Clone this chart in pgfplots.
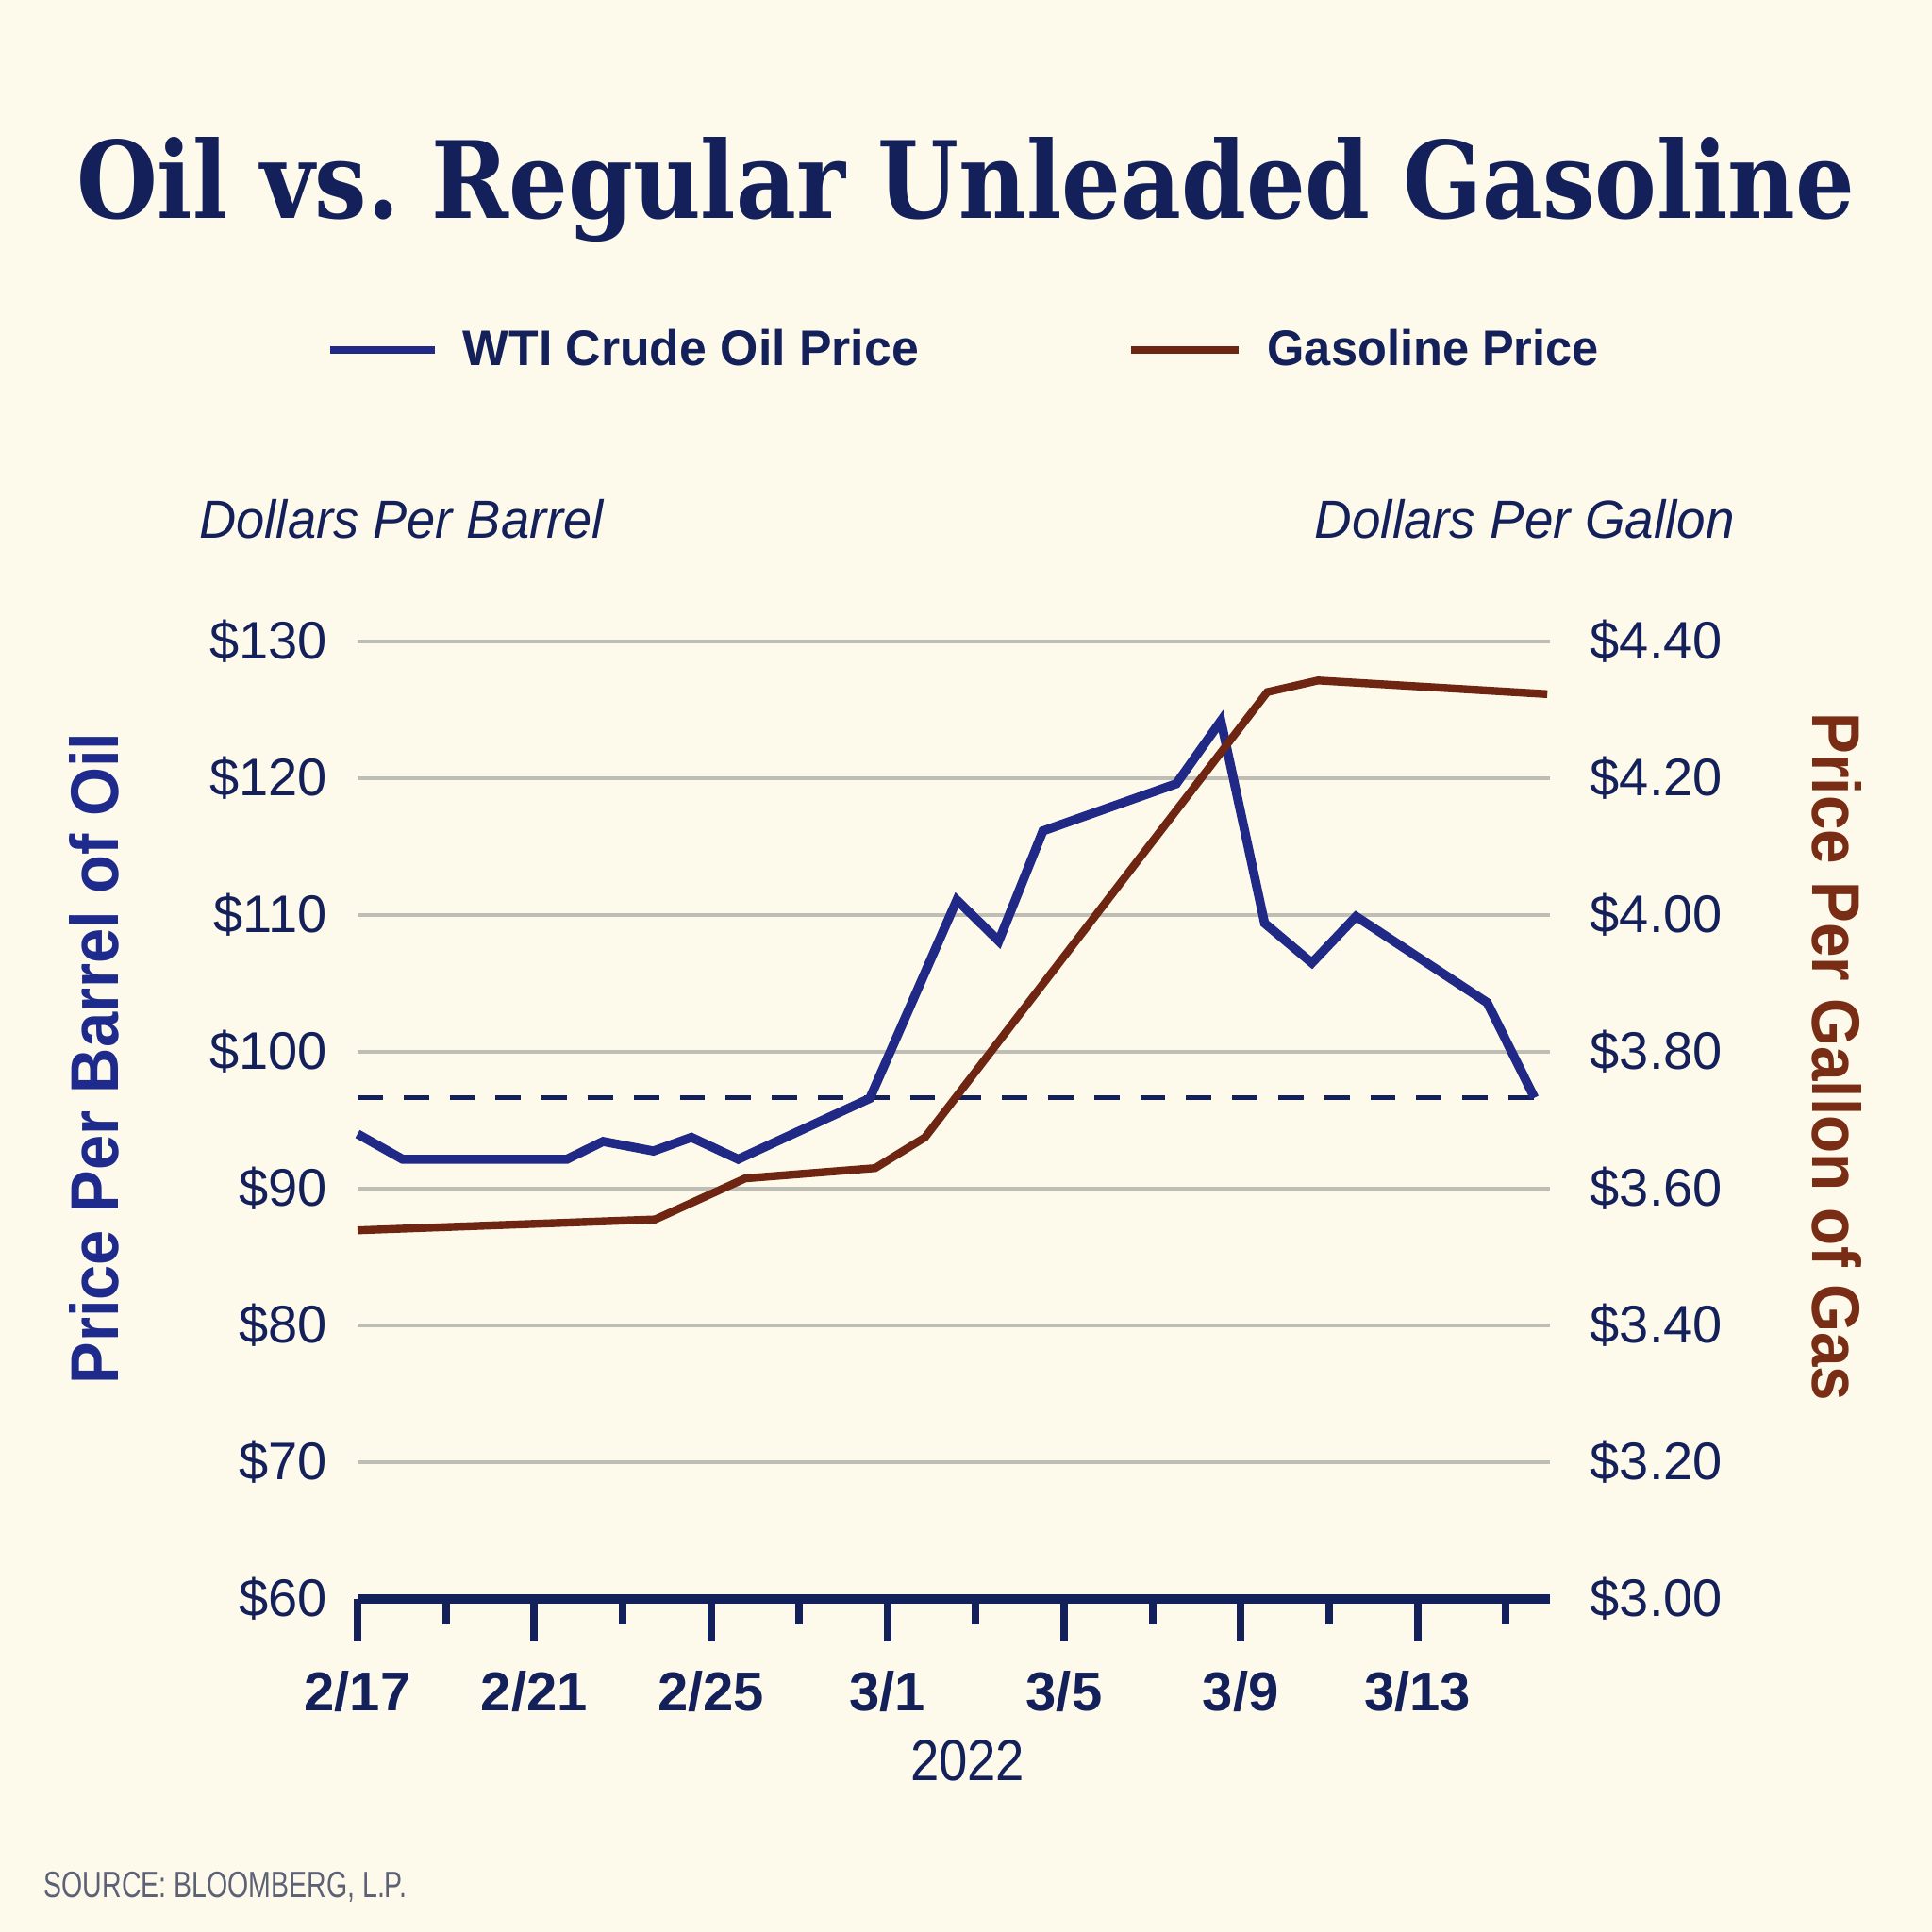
\documentclass[border=0pt]{standalone}
\usepackage{fontspec}
\setmainfont{Liberation Sans}
\newfontfamily\titlefont{DejaVu Serif}
\usepackage{graphicx}
\usepackage{pgfplots}
\pgfplotsset{compat=1.18}

\definecolor{paper}{HTML}{FDF9EB}
\definecolor{ink}{HTML}{14205A}
\definecolor{oilblue}{HTML}{202A86}
\definecolor{oillabel}{HTML}{1F2B8C}
\definecolor{gasbrown}{HTML}{6E2612}
\definecolor{gaslabel}{HTML}{7A2D15}
\definecolor{gridgray}{HTML}{BEBDB6}
\definecolor{sourcegray}{HTML}{5D6175}

\pgfplotsset{
  twinaxis/.style={
    at={(94.75pt,88.25pt)}, anchor=south west,
    scale only axis, width=316pt, height=253.75pt,
    xmin=0, xmax=27, clip=false,
    tick align=outside,
    /pgf/number format/assume math mode=true,
  }
}

\begin{document}
\begin{tikzpicture}
\fill[paper] (0,0) rectangle (512pt,512pt);
\useasboundingbox (0,0) rectangle (512pt,512pt);

% crude oil, dollars per barrel (left scale)
\begin{axis}[
  twinaxis,
  ymin=60, ymax=130,
  axis x line*=bottom,
  axis y line*=left,
  y axis line style={draw=none},
  x axis line style={draw=ink, line width=2.3pt, -},
  ytick={60,70,...,130},
  yticklabel={\$\pgfmathprintnumber{\tick}},
  yticklabel style={font=\fontsize{14}{14}\selectfont, text=ink, inner sep=0pt, anchor=east, xshift=3.5pt},
  ytick style={draw=none},
  ymajorgrids,
  grid style={draw=gridgray, line width=1pt},
  xtick={0,4,...,24},
  xticklabels={2/17,2/21,2/25,3/1,3/5,3/9,3/13},
  minor xtick={2,6,...,26},
  major tick length=11.3pt,
  minor tick length=6.7pt,
  xtick style={draw=ink, line width=2pt},
  minor tick style={draw=ink, line width=2pt},
  xticklabel style={font=\bfseries\fontsize{14.5}{14.5}\selectfont, text=ink, inner sep=0pt, anchor=north, yshift=-7.5pt},
]
\addplot[ink, line width=1.1pt, dash pattern=on 6.7pt off 5.5pt]
  coordinates {(0,96.65) (27,96.65)};
\addplot[oilblue, line width=2.4pt, line join=miter]
  coordinates {
    (0,94.0) (1.02,92.15) (4.74,92.15) (5.56,93.45) (6.7,92.75)
    (7.56,93.75) (8.62,92.15) (11.6,96.6) (13.57,111.1) (14.52,108.1)
    (15.52,116.15) (18.54,119.6) (19.55,124.2) (20.54,109.4)
    (21.61,106.5) (22.61,109.9) (25.58,103.6) (26.65,96.65)
  };
\end{axis}

% regular unleaded, dollars per gallon (right scale)
\begin{axis}[
  twinaxis,
  ymin=3, ymax=4.4,
  axis x line=none,
  axis y line*=right,
  y axis line style={draw=none},
  ytick={3,3.2,3.4,3.6,3.8,4,4.2,4.4},
  yticklabel={\$\pgfmathprintnumber[fixed,fixed zerofill,precision=2]{\tick}},
  yticklabel style={font=\fontsize{14}{14}\selectfont, text=ink, inner sep=0pt, anchor=west, xshift=-0.8pt},
  ytick style={draw=none},
  major tick length=11.3pt,
]
\addplot[gasbrown, line width=2.1pt, line join=miter]
  coordinates {
    (0,3.539) (6.74,3.555) (8.78,3.615) (11.72,3.630) (12.85,3.675)
    (20.6,4.326) (21.75,4.343) (26.94,4.323)
  };
\end{axis}

% title
\node[anchor=base, inner sep=0pt, text=ink] at (255.9pt,454pt)
  {\resizebox{471.25pt}{21.5pt}{\titlefont\bfseries Oil vs.\ Regular Unleaded Gasoline}};

% legend
\draw[oilblue, line width=2pt] (87.5pt,419.3pt) -- (115.25pt,419.3pt);
\node[anchor=base west, inner sep=0pt, text=ink] at (122.45pt,415pt)
  {\resizebox{120.8pt}{9.6pt}{\bfseries WTI Crude Oil Price}};
\draw[gasbrown, line width=2pt] (299.75pt,419.3pt) -- (328.15pt,419.3pt);
\node[anchor=base west, inner sep=0pt, text=ink] at (335.7pt,415pt)
  {\resizebox{87.8pt}{9.6pt}{\bfseries Gasoline Price}};

% unit captions
\node[anchor=base west, inner sep=0pt, text=ink] at (52.7pt,369.25pt)
  {\resizebox{107pt}{10.3pt}{\itshape Dollars Per Barrel}};
\node[anchor=base west, inner sep=0pt, text=ink] at (348.25pt,369.25pt)
  {\resizebox{111.2pt}{10.3pt}{\itshape Dollars Per Gallon}};

% axis titles
\node[rotate=90, inner sep=0pt, text=oillabel] at (25pt,231.5pt)
  {\resizebox{172.75pt}{13pt}{\bfseries Price Per Barrel of Oil}};
\node[rotate=-90, inner sep=0pt, text=gaslabel] at (486.9pt,231.9pt)
  {\resizebox{182.4pt}{13pt}{\bfseries Price Per Gallon of Gas}};

% year
\node[anchor=base, inner sep=0pt, text=ink] at (256.4pt,40pt)
  {\resizebox{30.3pt}{10.75pt}{2022}};

% source
\node[anchor=base west, inner sep=0pt, text=sourcegray] at (11.5pt,9.1pt)
  {\resizebox{96.1pt}{6.8pt}{SOURCE: BLOOMBERG, L.P.}};
\end{tikzpicture}
\end{document}
